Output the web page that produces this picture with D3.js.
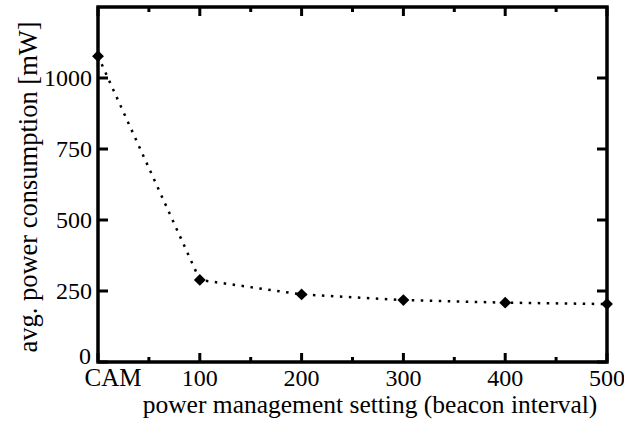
<!DOCTYPE html>
<html>
<head>
<meta charset="utf-8">
<script src="https://cdn.jsdelivr.net/npm/d3@7"></script>
<style>
  body { margin: 0; background: #fff; }
  svg text { font-family: "Liberation Serif", "Times New Roman", serif; fill: #000; }
</style>
</head>
<body>
<svg id="grafico" width="624" height="421"></svg>
<script>
let categorias = ['CAM', '100', '200', '300', '400', '500'];
let consumo = [1077, 289, 238, 218, 209, 204];
let ticksY = [0, 250, 500, 750, 1000];

let svg = d3.select('#grafico');
let esq = 98, dir = 607, topo = 7, base = 362;

let fnx = d3.scaleLinear()
    .domain([0, categorias.length - 1])
    .range([esq, dir]);

let fny = d3.scaleLinear()
    .domain([0, 1250])
    .range([base, topo]);

// ticks do eixo x (principais + secundarios), em baixo e em cima
let g = svg.append('g').attr('stroke', '#000').attr('stroke-width', 3);
d3.range(categorias.length).forEach(i => {
    let x = fnx(i);
    g.append('line').attr('x1', x).attr('x2', x).attr('y1', base).attr('y2', base - 9);
    g.append('line').attr('x1', x).attr('x2', x).attr('y1', topo).attr('y2', topo + 9);
    if (i < categorias.length - 1) {
        let xm = fnx(i + 0.5);
        g.append('line').attr('x1', xm).attr('x2', xm).attr('y1', base).attr('y2', base - 5);
        g.append('line').attr('x1', xm).attr('x2', xm).attr('y1', topo).attr('y2', topo + 5);
    }
});
ticksY.forEach(v => {
    let y = fny(v);
    g.append('line').attr('x1', esq).attr('x2', esq + 10).attr('y1', y).attr('y2', y);
    g.append('line').attr('x1', dir).attr('x2', dir - 10).attr('y1', y).attr('y2', y);
});

// moldura
svg.append('rect')
    .attr('x', esq).attr('y', topo)
    .attr('width', dir - esq).attr('height', base - topo)
    .attr('fill', 'none').attr('stroke', '#000').attr('stroke-width', 3.5);

// rotulos
svg.selectAll('.rotuloY')
    .data(ticksY)
    .join('text')
    .attr('class', 'rotuloY')
    .attr('x', d => esq - (d === 0 ? 7 : 6))
    .attr('y', d => fny(d) + (d === 0 ? 2 : 8))
    .attr('text-anchor', 'end')
    .attr('font-size', 24)
    .text(d => d);

svg.selectAll('.rotuloX')
    .data(categorias)
    .join('text')
    .attr('class', 'rotuloX')
    .attr('x', (d, i) => fnx(i) + (i === 0 ? 15 : 0))
    .attr('y', 386)
    .attr('text-anchor', 'middle')
    .attr('font-size', (d, i) => i === 0 ? 25 : 24)
    .text(d => d);

svg.append('text')
    .attr('x', 370).attr('y', 413)
    .attr('text-anchor', 'middle')
    .attr('font-size', 25.5)
    .text('power management setting (beacon interval)');

svg.append('text')
    .attr('transform', 'translate(37,187) rotate(-90)')
    .attr('text-anchor', 'middle')
    .attr('font-size', 26.5)
    .text('avg. power consumption [mW]');

// linha pontilhada
let linha = d3.line()
    .x((d, i) => fnx(i))
    .y(d => fny(d));

svg.append('path')
    .datum(consumo)
    .attr('d', linha)
    .attr('fill', 'none')
    .attr('stroke', '#000')
    .attr('stroke-width', 2.5)
    .attr('stroke-dasharray', '2.5 6.5');

svg.selectAll('.ponto')
    .data(consumo)
    .join('path')
    .attr('class', 'ponto')
    .attr('d', d3.symbol(d3.symbolDiamond2, 90))
    .attr('transform', (d, i) => `translate(${fnx(i)},${fny(d)})`)
    .attr('fill', '#000');
</script>
</body>
</html>
